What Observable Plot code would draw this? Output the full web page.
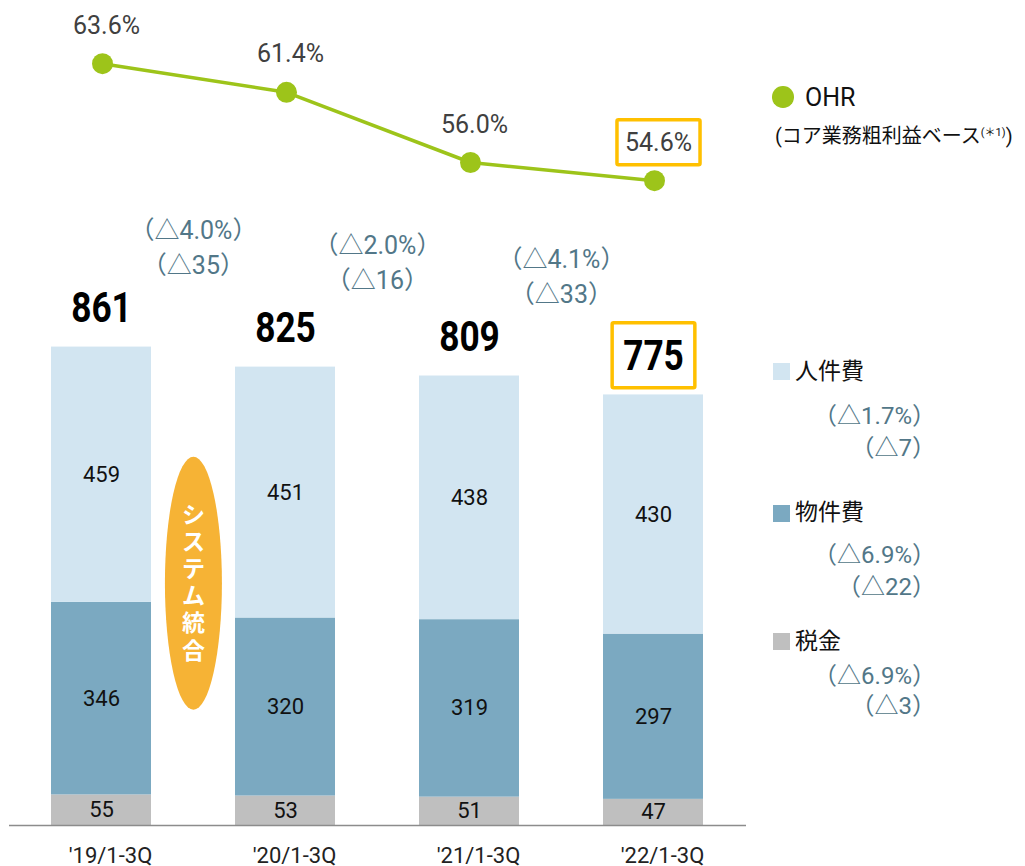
<!DOCTYPE html>
<html><head><meta charset="utf-8">
<script src="https://cdn.jsdelivr.net/npm/d3@7"></script>
<script src="https://cdn.jsdelivr.net/npm/@observablehq/plot@0.6"></script>
<style>
html,body{margin:0;padding:0;background:#fff;overflow:hidden}
#wrap{position:relative;width:1025px;height:866px;font-family:Roboto,"Noto Sans CJK JP",sans-serif}
#wrap svg{position:absolute;left:0;top:0}
.lg{position:absolute;white-space:nowrap}
</style></head><body><div id="wrap"></div>
<script>
// ---------- data ----------
const categories = ["'19/1-3Q", "'20/1-3Q", "'21/1-3Q", "'22/1-3Q"];
const seriesNames = ["税金", "物件費", "人件費"];          // stacking order, bottom to top
const taxes = [55, 53, 51, 47];
const propertyCosts = [346, 320, 319, 297];
const personnelCosts = [459, 451, 438, 430];
const totals = [861, 825, 809, 775];
const ohr = [63.6, 61.4, 56.0, 54.6];
const yoyPct = ["△4.0%", "△2.0%", "△4.1%"];
const yoyAbs = ["△35", "△16", "△33"];
const seriesChangePct = ["△6.9%", "△6.9%", "△1.7%"];   // same order as seriesNames
const seriesChangeAbs = ["△3", "△22", "△7"];
const highlightCategory = "'22/1-3Q";
const eventLabel = "システム統合";
const ohrLegend = "OHR";
const ohrLegendNote = "(コア業務粗利益ベース";
const ohrLegendSup = "(＊1)";

// ---------- styles ----------
const SERIES_COLORS = ["#BFBFBF", "#7BA9C1", "#D2E5F1"];
const GREEN = "#9DC41A";
const ORANGE = "#F6B335";
const GOLD = "#FFC000";
const DELTA_COLOR = "#527788";
const BASEFONT = "Roboto, 'Noto Sans CJK JP', sans-serif";
const W = 1025, H = 866, ML = 9, MR = 279, MB = 41;
const PI = 0.454, PO = 0.228;
const STEP = (W - ML - MR) / (categories.length - PI + 2 * PO);

const valuesBySeries = [taxes, propertyCosts, personnelCosts];
const stackedRows = categories.flatMap((c, i) =>
  seriesNames.map((s, j) => ({category: c, series: s, value: valuesBySeries[j][i]})));
const totalRows = categories.map((c, i) => ({category: c, total: totals[i]}));
const ohrRows = categories.map((c, i) => ({category: c, ohr: ohr[i]}));
const deltaRows = yoyPct.map((p, i) => ({
  category: categories[i + 1],
  mid: (totals[i] + totals[i + 1]) / 2,
  text: `（${p}）\n（${yoyAbs[i]}）`
}));

const xOpts = {domain: categories, paddingInner: PI, paddingOuter: PO, axis: null};

const bars = Plot.plot({
  width: W, height: H, marginLeft: ML, marginRight: MR, marginTop: 0, marginBottom: MB,
  style: {background: "transparent", fontFamily: BASEFONT, overflow: "visible"},
  x: xOpts,
  y: {domain: [0, 1483], axis: null},
  color: {domain: seriesNames, range: SERIES_COLORS},
  marks: [
    Plot.barY(stackedRows, {x: "category", y: "value", fill: "series"}),
    Plot.text(stackedRows, Plot.stackY({x: "category", y: "value", z: "series",
      text: d => String(d.value), fill: "#111", fontSize: 22})),
    Plot.ruleY([0], {stroke: "#8c8c8c", strokeWidth: 1.5}),
    Plot.text(categories, {x: d => d, frameAnchor: "bottom", dx: 9, dy: 30, fontSize: 22,
      fill: "#222", lineAnchor: "middle"}),
    Plot.text(totalRows, {x: "category", y: "total", text: d => String(d.total),
      dy: -38, fontSize: 42, fontWeight: "bold", fill: "#000"}),
    Plot.text(deltaRows, {x: "category", y: "mid", text: "text", dx: -STEP / 2, dy: -111,
      lineHeight: 1.4, fontSize: 25, fill: DELTA_COLOR}),
    Plot.text([eventLabel], {x: () => categories[1], y: () => totals[0] / 2,
      text: d => d.split("").join("\n"), dx: -STEP / 2, dy: -4, lineHeight: 1.18,
      fontSize: 23, fontWeight: "bold", fill: "#fff"})
  ]
});

const lineChart = Plot.plot({
  width: W, height: H, marginLeft: ML, marginRight: MR, marginTop: 0, marginBottom: MB,
  style: {background: "transparent", fontFamily: BASEFONT, overflow: "visible"},
  x: xOpts,
  y: {domain: [50, 68], range: [240, 6], axis: null},
  marks: [
    Plot.line(ohrRows, {x: "category", y: "ohr", stroke: GREEN, strokeWidth: 3.5}),
    Plot.dot(ohrRows, {x: "category", y: "ohr", r: 10.5, fill: GREEN}),
    Plot.text(ohrRows, {x: "category", y: "ohr", text: d => d.ohr.toFixed(1) + "%",
      dx: 4, dy: -38, fontSize: 25, fill: "#404040"})
  ]
});

const wrap = document.getElementById("wrap");
wrap.appendChild(bars);
wrap.appendChild(lineChart);

function findText(svg, str) {
  return Array.from(svg.querySelectorAll("text")).find(t => t.textContent === str);
}
function localBox(svg, el) {
  const s = svg.getBoundingClientRect(), r = el.getBoundingClientRect();
  return {x: r.left - s.left, y: r.top - s.top, w: r.width, h: r.height};
}
// condense the bold totals like the narrow face of the original
totals.forEach(v => {
  const t = findText(bars, String(v));
  if (t) {
    const w = t.getBBox().width;
    t.setAttribute("textLength", (w * 0.84).toFixed(1));
    t.setAttribute("lengthAdjust", "spacingAndGlyphs");
  }
});
function boxAround(svg, str, padX, padY) {
  const t = findText(svg, str);
  if (!t) return;
  const b = localBox(svg, t);
  d3.select(svg).append("rect")
    .attr("x", b.x - padX).attr("y", b.y - padY)
    .attr("width", b.w + 2 * padX).attr("height", b.h + 2 * padY)
    .attr("fill", "none").attr("stroke", GOLD).attr("stroke-width", 3.5).attr("rx", 1.5);
}
// highlight boxes
const hi = categories.indexOf(highlightCategory);
boxAround(bars, String(totals[hi]), 11, 8);
boxAround(lineChart, ohr[hi].toFixed(1) + "%", 8, 8);

// event ellipse behind its label
{
  const t = findText(bars, eventLabel);
  if (t) {
    const b = localBox(bars, t);
    const g = t.parentNode;
    const e = document.createElementNS("http://www.w3.org/2000/svg", "ellipse");
    e.setAttribute("cx", b.x + b.w / 2);
    e.setAttribute("cy", b.y + b.h / 2);
    e.setAttribute("rx", 28.5);
    e.setAttribute("ry", 126.5);
    e.setAttribute("fill", ORANGE);
    g.parentNode.insertBefore(e, g);
  }
}

// ---------- legend (HTML) ----------
function addDiv(html, css) {
  const d = document.createElement("div");
  d.className = "lg";
  d.innerHTML = html;
  Object.assign(d.style, css);
  wrap.appendChild(d);
  return d;
}
function line(html, opts) {
  const lh = Math.round(opts.size * 1.3);
  const css = {top: (opts.cy - lh / 2) + "px", height: lh + "px", lineHeight: lh + "px",
    fontSize: opts.size + "px", color: opts.color || "#111"};
  if (opts.left != null) css.left = opts.left + "px";
  if (opts.right != null) css.right = opts.right + "px";
  return addDiv(html, css);
}
addDiv("", {left: "772px", top: "86px", width: "21.5px", height: "21.5px",
  borderRadius: "50%", background: GREEN});
line(ohrLegend, {left: 805, cy: 97, size: 25});
line(`${ohrLegendNote}<span style="font-size:11px;vertical-align:7px">${ohrLegendSup}</span>)`,
  {left: 775, cy: 133, size: 20});

const LEG_Y = [641.7, 513, 371.5];
const LEG_D1 = [35, 42, 45];
const LEG_D2 = [65, 74, 77];
seriesNames.forEach((s, j) => {
  const cy = LEG_Y[j];
  addDiv("", {left: "773px", top: (cy - 8.5) + "px", width: "17px", height: "17px",
    background: SERIES_COLORS[j]});
  line(s, {left: 795, cy, size: 23, color: "#111"});
  line(`（${seriesChangePct[j]}）`, {right: 89, cy: cy + LEG_D1[j], size: 24, color: DELTA_COLOR});
  line(`（${seriesChangeAbs[j]}）`, {right: 89, cy: cy + LEG_D2[j], size: 24, color: DELTA_COLOR});
});
</script></body></html>
